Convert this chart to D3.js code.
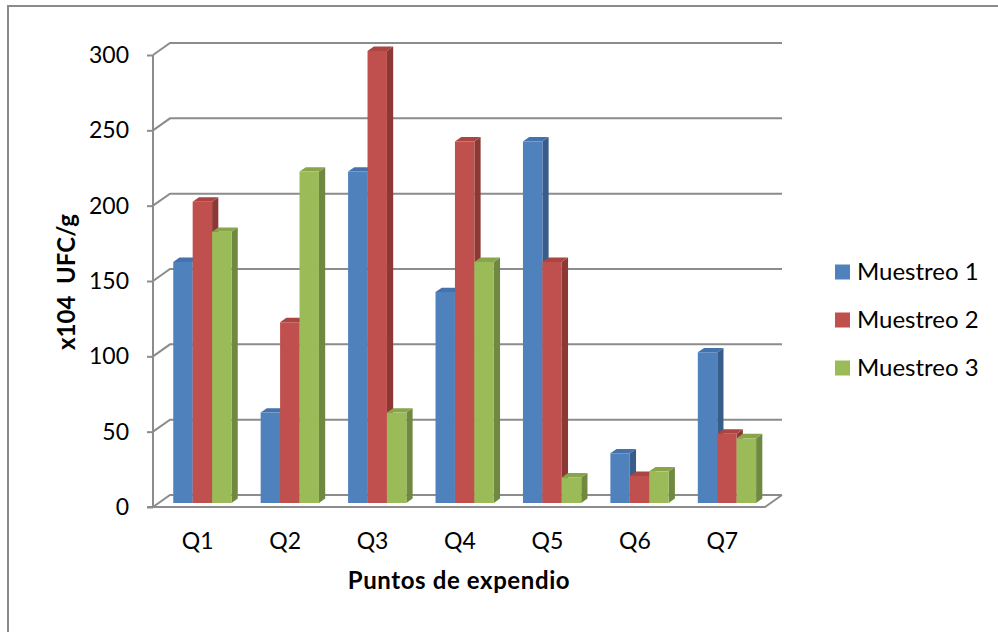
<!DOCTYPE html>
<html>
<head>
<meta charset="utf-8">
<script src="https://cdn.jsdelivr.net/npm/d3@7"></script>
<style>
  html, body { margin: 0; padding: 0; background: #fff; }
  svg { display: block; }
  text { font-family: Lato, "Open Sans", sans-serif; fill: #000; }
</style>
</head>
<body>
<svg id="chart" width="998" height="632"></svg>
<script>
// Sampling points and the three sampling rounds (x10^4 UFC/g)
const categories = ["Q1", "Q2", "Q3", "Q4", "Q5", "Q6", "Q7"];
const seriesNames = ["Muestreo 1", "Muestreo 2", "Muestreo 3"];
const muestreo1 = [160, 60, 220, 140, 240, 33, 100];
const muestreo2 = [200, 120, 300, 240, 160, 18, 46];
const muestreo3 = [180, 220, 60, 160, 17, 21, 43];
const yTicks = [0, 50, 100, 150, 200, 250, 300];
const xTitle = "Puntos de expendio";
const yTitle = "x104  UFC/g";

const seriesValues = [muestreo1, muestreo2, muestreo3];
const palette = [
  { front: "#4F81BD", top: "#4572AB", side: "#385D8A" },
  { front: "#C0504D", top: "#AA4542", side: "#8C3835" },
  { front: "#9BBB59", top: "#88A54C", side: "#6F8940" }
];

const svg = d3.select("#chart");

// Oblique 3D projection: z = 0 is the front plane, z = 1 the back wall
const DX = 17, DY = -12;
const proj = (x, y, z) => [x + DX * z, y + DY * z];

const x0 = d3.scaleBand().domain(categories).range([153, 765]).paddingInner(0).paddingOuter(0);
const x1 = d3.scaleBand().domain(seriesNames).range([0, x0.bandwidth()]).paddingInner(0).paddingOuter(0.75);
const y = d3.scaleLinear().domain([0, 300]).range([507, 55]);

// Chart area border
svg.append("rect")
  .attr("x", 8).attr("y", 6).attr("width", 1200).attr("height", 800)
  .attr("fill", "none").attr("stroke", "#8a8a8a").attr("stroke-width", 2);

const grid = svg.append("g").attr("stroke", "#8c8c8c").attr("stroke-width", 2).attr("fill", "none");
const left = x0.range()[0], right = x0.range()[1];

// Back wall gridlines and left wall diagonals
yTicks.forEach(v => {
  const yy = y(v);
  const a = proj(left, yy, 0), b = proj(left, yy, 1), c = proj(right, yy, 1);
  grid.append("path").attr("d", `M${a[0]},${a[1]}L${b[0]},${b[1]}L${c[0]},${c[1]}`);
});

// Floor front edge and right edge
{
  const y0 = y(0);
  const r1 = proj(right, y0, 1);
  grid.append("path").attr("d", `M${left - 6},${y0}L${right},${y0}L${r1[0]},${r1[1]}`);
}

// Vertical axis line with ticks
const axis = d3.axisLeft(y).tickValues(yTicks).tickSize(6).tickPadding(18).tickFormat(d3.format("d"));
const axisG = svg.append("g").attr("transform", `translate(${left},0)`).call(axis);
axisG.select(".domain").attr("stroke", "#8c8c8c").attr("stroke-width", 2).attr("d", `M0,${y(300)}V${y(0)}`);
axisG.selectAll(".tick line").attr("stroke", "#8c8c8c").attr("stroke-width", 2);
axisG.selectAll(".tick text")
  .style("font-family", "Lato, sans-serif").style("font-size", "23px").attr("fill", "#000");

// Bars: front face, top face and right side face
const zFront = 1 / 3, zBack = 0.7;
const barsG = svg.append("g");
categories.forEach((cat, ci) => {
  seriesNames.forEach((s, si) => {
    const v = seriesValues[si][ci];
    const xl = x0(cat) + x1(s), xr = xl + x1.bandwidth();
    const yt = y(v), yb = y(0);
    const col = palette[si];
    const p = (xx, yy, z) => proj(xx, yy, z).join(",");
    // side
    barsG.append("path").attr("fill", col.side)
      .attr("d", `M${p(xr, yb, zFront)}L${p(xr, yb, zBack)}L${p(xr, yt, zBack)}L${p(xr, yt, zFront)}Z`);
    // top
    barsG.append("path").attr("fill", col.top)
      .attr("d", `M${p(xl, yt, zFront)}L${p(xr, yt, zFront)}L${p(xr, yt, zBack)}L${p(xl, yt, zBack)}Z`);
    // front
    barsG.append("path").attr("fill", col.front)
      .attr("d", `M${p(xl, yb, zFront)}L${p(xr, yb, zFront)}L${p(xr, yt, zFront)}L${p(xl, yt, zFront)}Z`);
  });
});

// Category labels
svg.append("g").selectAll("text").data(categories).join("text")
  .attr("x", d => x0(d) + x0.bandwidth() / 2 + 1)
  .attr("y", 549)
  .attr("text-anchor", "middle")
  .style("font-size", "23px")
  .text(d => d);

// Axis titles
svg.append("text")
  .attr("x", 459).attr("y", 589)
  .attr("text-anchor", "middle")
  .style("font-size", "24px").style("font-weight", "bold")
  .style("letter-spacing", "0.6px")
  .text(xTitle);

svg.append("text")
  .attr("transform", "translate(75,282) rotate(-90)")
  .attr("text-anchor", "middle")
  .style("font-size", "24px").style("font-weight", "bold")
  .style("white-space", "pre")
  .attr("xml:space", "preserve")
  .text(yTitle);

// Legend
const legend = svg.append("g").selectAll("g").data(seriesNames).join("g")
  .attr("transform", (d, i) => `translate(835,${272 + i * 48})`);
legend.append("rect")
  .attr("x", 0).attr("y", -7.5).attr("width", 15).attr("height", 15)
  .attr("fill", (d, i) => palette[i].front);
legend.append("text")
  .attr("x", 22).attr("y", 8)
  .style("font-size", "24px")
  .text(d => d);
</script>
</body>
</html>
